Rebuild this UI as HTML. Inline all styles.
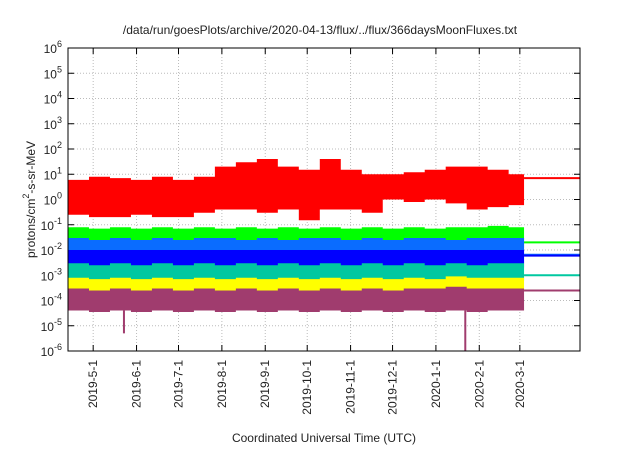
<!DOCTYPE html>
<html><head><meta charset="utf-8"><style>
body{margin:0;background:#fff;width:640px;height:448px;overflow:hidden}
svg text{font-family:"Liberation Sans",sans-serif;fill:#222}
</style></head><body>
<svg id="c" width="640" height="448"></svg>
<script>
const monthLabels=["2019-5-1","2019-6-1","2019-7-1","2019-8-1","2019-9-1","2019-10-1","2019-11-1","2019-12-1","2020-1-1","2020-2-1","2020-3-1"];
const monthDays=[18,49,79,110,141,171,202,232,263,294,323];
const binDays=[0,15,30,45,60,75,90,105,120,135,150,165,180,195,210,225,240,255,270,285,300,315,326];
const redLow=[.25,.2,.2,.25,.2,.2,.3,.4,.4,.3,.4,.15,.4,.4,.3,1,.8,1,.7,.4,.5,.6];
const redHigh=[6,8,7,6,8,6,8,20,30,40,20,15,40,15,10,10,12,15,20,20,15,10];
const greenLow=[.012,.01,.012,.01,.012,.01,.012,.012,.01,.012,.01,.012,.012,.01,.012,.012,.01,.012,.012,.01,.012,.012];
const greenHigh=[.08,.07,.08,.07,.08,.07,.08,.07,.08,.07,.08,.07,.08,.07,.08,.07,.08,.07,.08,.08,.09,.08];
const lblueLow=[.003,.003,.003,.003,.003,.003,.003,.003,.003,.003,.003,.003,.003,.003,.003,.003,.003,.003,.003,.003,.003,.003];
const lblueHigh=[.03,.025,.03,.025,.03,.025,.03,.03,.025,.03,.025,.03,.03,.025,.03,.025,.03,.03,.025,.03,.03,.03];
const blueLow=[.002,.002,.002,.002,.002,.002,.002,.002,.002,.002,.002,.002,.002,.002,.002,.002,.002,.002,.002,.002,.002,.002];
const blueHigh=[.01,.01,.01,.01,.01,.01,.01,.01,.01,.01,.01,.01,.01,.01,.01,.01,.01,.01,.01,.01,.01,.01];
const tealLow=[6e-4,6e-4,6e-4,6e-4,6e-4,6e-4,6e-4,6e-4,6e-4,6e-4,6e-4,6e-4,6e-4,6e-4,6e-4,6e-4,6e-4,6e-4,6e-4,6e-4,6e-4,6e-4];
const tealHigh=[3e-3,2.5e-3,3e-3,2.5e-3,3e-3,2.5e-3,3e-3,2.5e-3,3e-3,2.5e-3,3e-3,2.5e-3,3e-3,2.5e-3,3e-3,2.5e-3,3e-3,2.5e-3,3e-3,2.5e-3,3e-3,3e-3];
const yelLow=[2.5e-4,2.5e-4,2.5e-4,2.5e-4,2.5e-4,2.5e-4,2.5e-4,2.5e-4,2.5e-4,2.5e-4,2.5e-4,2.5e-4,2.5e-4,2.5e-4,2.5e-4,2.5e-4,2.5e-4,2.5e-4,2.5e-4,2.5e-4,2.5e-4,2.5e-4];
const yelHigh=[8e-4,7e-4,8e-4,7e-4,8e-4,7e-4,8e-4,7e-4,8e-4,7e-4,8e-4,7e-4,8e-4,7e-4,8e-4,7e-4,8e-4,7e-4,9e-4,8e-4,8e-4,8e-4];
const purLow=[4e-5,3.5e-5,4e-5,3.5e-5,4e-5,3.5e-5,4e-5,3.5e-5,4e-5,3.5e-5,4e-5,3.5e-5,4e-5,3.5e-5,4e-5,3.5e-5,4e-5,3.5e-5,4e-5,3.5e-5,4e-5,4e-5];
const purHigh=[3e-4,2.5e-4,3e-4,2.5e-4,3e-4,2.5e-4,3e-4,2.5e-4,3e-4,2.5e-4,3e-4,2.5e-4,3e-4,2.5e-4,3e-4,2.5e-4,3e-4,3e-4,3.5e-4,3e-4,3e-4,3e-4];
const lastValues=[7,.02,.0065,.006,.001,2.5e-4,2.5e-4];
const spikeDays=[40,284];
const spikeVals=[5e-6,1e-6];
const yTickExp=[6,5,4,3,2,1,0,-1,-2,-3,-4,-5,-6];

const L=68,R=580,T=48,B=351,D0=0,D1=366;
const x=d=>L+(d-D0)/(D1-D0)*(R-L);
const y=v=>T+(6-Math.log10(v))/12*(B-T);
const svg=document.getElementById('c');
const NS='http://www.w3.org/2000/svg';
function mk(t,a,p){const e=document.createElementNS(NS,t);for(const k in a)e.setAttribute(k,a[k]);(p||svg).appendChild(e);return e;}

const t=mk('text',{x:320,y:34,'text-anchor':'middle','font-size':12});t.textContent='/data/run/goesPlots/archive/2020-04-13/flux/../flux/366daysMoonFluxes.txt';



yTickExp.forEach(e=>{const yy=y(Math.pow(10,e));
 if(e<6&&e>-6){const g=mk('line',{x1:L,x2:R,y1:yy,y2:yy,stroke:'#bbb','stroke-dasharray':'1,2'});
 }
 mk('line',{x1:L,x2:L+6,y1:yy,y2:yy,stroke:'#000'});mk('line',{x1:R,x2:R-6,y1:yy,y2:yy,stroke:'#000'});
 const tx=mk('text',{x:L-6,y:yy+5,'text-anchor':'end','font-size':12});
 tx.innerHTML='10<tspan dy="-6" font-size="9">'+e+'</tspan>';
 
});
monthDays.forEach((d,i)=>{const xx=x(d);
 const g=mk('line',{x1:xx,x2:xx,y1:T,y2:B,stroke:'#bbb','stroke-dasharray':'1,2'});
 
 mk('line',{x1:xx,x2:xx,y1:B,y2:B-6,stroke:'#000'});mk('line',{x1:xx,x2:xx,y1:T,y2:T+6,stroke:'#000'});
 const tx=mk('text',{x:0,y:0,'text-anchor':'end','font-size':12,transform:`translate(${xx+4},${B+9}) rotate(-90)`});
 tx.textContent=monthLabels[i];
 
});

const series=[
 ['red-band','#ff0000',redLow,redHigh],
 ['green-band','#00ff00',greenLow,greenHigh],
 ['lightblue-band','#0a6cff',lblueLow,lblueHigh],
 ['blue-band','#0000ff',blueLow,blueHigh],
 ['teal-band','#00c8a0',tealLow,tealHigh],
 ['yellow-band','#ffff00',yelLow,yelHigh],
 ['purple-band','#a03c6e',purLow,purHigh]];
series.forEach(([n,c,lo,hi],si)=>{
 let top=[],bot=[];
 for(let i=0;i<lo.length;i++){
  const a=x(binDays[i]),b=x(binDays[i+1]);
  top.push(a+','+y(hi[i]),b+','+y(hi[i]));
  bot.unshift(b+','+y(lo[i]),a+','+y(lo[i]));
 }
 const p=mk('polygon',{points:top.concat(bot).join(' '),fill:c});
 
 
 const ln=mk('line',{x1:x(binDays[binDays.length-1]),x2:R,y1:y(lastValues[si]),y2:y(lastValues[si]),stroke:c,'stroke-width':2});
 
 
});
spikeDays.forEach((d,i)=>{const s=mk('line',{x1:x(d),x2:x(d),y1:y(purLow[0]),y2:y(spikeVals[i]),stroke:'#a03c6e','stroke-width':2});
 });

const fr=mk('rect',{x:L,y:T,width:R-L,height:B-T,fill:'none',stroke:'#000','stroke-width':1});

const yl=mk('text',{x:0,y:0,'text-anchor':'middle','font-size':12,transform:`translate(35,${(T+B)/2}) rotate(-90)`});
yl.innerHTML='protons/cm<tspan dy="-6" font-size="9">2</tspan><tspan dy="6">-s-sr-MeV</tspan>';

const xl=mk('text',{x:324,y:442,'text-anchor':'middle','font-size':12});xl.textContent='Coordinated Universal Time (UTC)';

</script></body></html>
